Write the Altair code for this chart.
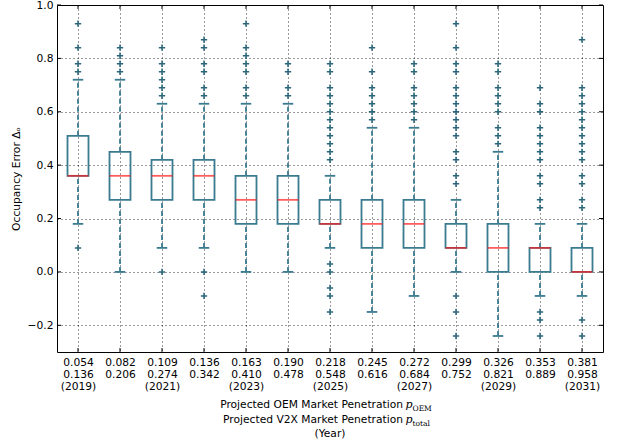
import json

import altair as alt
import pandas as pd

# Tick labels: OEM share, total V2X share, year
oem_share = ["0.054", "0.082", "0.109", "0.136", "0.163", "0.190", "0.218",
             "0.245", "0.272", "0.299", "0.326", "0.353", "0.381"]
total_share = ["0.136", "0.206", "0.274", "0.342", "0.410", "0.478", "0.548",
               "0.616", "0.684", "0.752", "0.821", "0.889", "0.958"]
years = ["(2019)", "", "(2021)", "", "(2023)", "", "(2025)", "", "(2027)", "",
         "(2029)", "", "(2031)"]

# Box statistics per penetration level
q1 = [0.36, 0.27, 0.27, 0.27, 0.18, 0.18, 0.18, 0.09, 0.09, 0.09, 0.00, 0.00, 0.00]
median = [0.36, 0.36, 0.36, 0.36, 0.27, 0.27, 0.18, 0.18, 0.18, 0.09, 0.09, 0.09, 0.00]
q3 = [0.51, 0.45, 0.42, 0.42, 0.36, 0.36, 0.27, 0.27, 0.27, 0.18, 0.18, 0.09, 0.09]
whisker_lo = [0.18, 0.00, 0.09, 0.09, 0.00, 0.00, 0.09, -0.15, -0.09, 0.00, -0.24, -0.09, -0.09]
whisker_hi = [0.72, 0.72, 0.63, 0.63, 0.63, 0.63, 0.36, 0.54, 0.54, 0.27, 0.45, 0.18, 0.18]

outliers = [
    [0.93, 0.84, 0.78, 0.75, 0.09],
    [0.84, 0.81, 0.78, 0.75],
    [0.84, 0.78, 0.75, 0.72, 0.69, 0.66, 0.00],
    [0.87, 0.84, 0.78, 0.75, 0.69, 0.66, 0.00, -0.09],
    [0.93, 0.84, 0.81, 0.78, 0.75, 0.69, 0.66],
    [0.78, 0.75, 0.69, 0.66],
    [0.78, 0.75, 0.69, 0.66, 0.63, 0.60, 0.57, 0.54, 0.51, 0.48, 0.45, 0.42,
     0.03, 0.00, -0.06, -0.09, -0.15],
    [0.84, 0.75, 0.69, 0.66, 0.63, 0.60, 0.57],
    [0.78, 0.75, 0.69, 0.66, 0.63, 0.60, 0.57],
    [0.93, 0.84, 0.78, 0.75, 0.69, 0.66, 0.63, 0.60, 0.57, 0.54, 0.51, 0.45,
     0.42, 0.36, 0.33, -0.09, -0.15, -0.24],
    [0.78, 0.75, 0.69, 0.66, 0.63, 0.60, 0.54, 0.51, 0.48],
    [0.69, 0.63, 0.60, 0.54, 0.51, 0.48, 0.45, 0.42, 0.36, 0.33, 0.27, 0.24,
     -0.15, -0.18, -0.24],
    [0.87, 0.69, 0.66, 0.63, 0.60, 0.57, 0.54, 0.51, 0.48, 0.45, 0.42, 0.36,
     0.33, 0.27, 0.24, -0.18, -0.24],
]

y_ticks = [-0.2, 0.0, 0.2, 0.4, 0.6, 0.8, 1.0]

W, H = 546, 347
EDGE = "#3b7b90"
FLIER = "#2b657a"
FONT = "DejaVu Sans"
FS = 10.7

pos = list(range(1, len(q1) + 1))
boxes = pd.DataFrame({"pos": pos, "q1": q1, "med": median, "q3": q3,
                      "lo": whisker_lo, "hi": whisker_hi})
boxes["left"] = boxes["pos"] - 0.25
boxes["right"] = boxes["pos"] + 0.25
boxes["cap_l"] = boxes["pos"] - 0.125
boxes["cap_r"] = boxes["pos"] + 0.125

fliers = pd.DataFrame([{"pos": i + 1, "v": v}
                       for i, vals in enumerate(outliers) for v in vals])

xs = alt.Scale(domain=[0.5, len(pos) + 0.5], nice=False, zero=False)
ys = alt.Scale(domain=[-0.3, 1.0], nice=False, zero=False)

label_rows = [[o, t, yr] for o, t, yr in zip(oem_share, total_share, years)]
label_expr = json.dumps(label_rows).replace('"', "'") + "[datum.value - 1]"

x_axis = alt.Axis(values=pos, labelExpr=label_expr, title=None, grid=True,
                  ticks=False, domain=False, labelPadding=5,
                  labelBaseline="top", labelLineHeight=12.4, labelFontSize=FS,
                  labelFont=FONT, labelColor="black", labelFlush=False)
y_axis = alt.Axis(values=y_ticks, format=".1f", title="Occupancy Error Δₒ",
                  grid=True, ticks=False, domain=False,
                  labelPadding=4, labelFontSize=FS, labelFont=FONT,
                  labelColor="black", titleFont=FONT, titleFontSize=FS,
                  titleFontWeight="normal", titleColor="black",
                  titlePadding=6, labelFlush=False)


def X(field):
    return alt.X(field, scale=xs, axis=x_axis)


def Y(field):
    return alt.Y(field, scale=ys, axis=y_axis)


base = alt.Chart(boxes)

# Dashed whiskers from the box edges out to the caps
whisk_hi = base.mark_rule(color=EDGE, strokeWidth=1.8, strokeDash=[5, 3]).encode(
    x=X("pos:Q"), y=Y("q3:Q"), y2="hi:Q",
)
whisk_lo = base.mark_rule(color=EDGE, strokeWidth=1.8, strokeDash=[5, 3]).encode(
    x=X("pos:Q"), y=Y("lo:Q"), y2="q1:Q",
)
cap_hi = base.mark_rule(color=EDGE, strokeWidth=1.8).encode(
    x=X("cap_l:Q"), x2="cap_r:Q", y=Y("hi:Q"),
)
cap_lo = base.mark_rule(color=EDGE, strokeWidth=1.8).encode(
    x=X("cap_l:Q"), x2="cap_r:Q", y=Y("lo:Q"),
)
box = base.mark_rect(fillOpacity=0, stroke=EDGE, strokeWidth=1.8).encode(
    x=X("left:Q"), x2="right:Q", y=Y("q1:Q"), y2="q3:Q",
)
med = base.mark_rule(color="#ff1a1a", opacity=0.7, strokeWidth=1.8).encode(
    x=X("left:Q"), x2="right:Q", y=Y("med:Q"),
)
pts = alt.Chart(fliers).mark_point(
    shape="M-1,0H1M0,-1V1", size=40, filled=False, stroke=FLIER,
    strokeWidth=1.5, opacity=1,
).encode(x=X("pos:Q"), y=Y("v:Q"))

# Inward tick marks on all four sides of the frame
yt = pd.DataFrame({"t": y_ticks})
xt = pd.DataFrame({"t": pos})
tick_style = dict(color="black", strokeWidth=1)
ticks = [
    alt.Chart(yt).mark_rule(**tick_style).encode(
        x=alt.value(0), x2=alt.value(4), y=Y("t:Q")),
    alt.Chart(yt).mark_rule(**tick_style).encode(
        x=alt.value(W - 4), x2=alt.value(W), y=Y("t:Q")),
    alt.Chart(xt).mark_rule(**tick_style).encode(
        y=alt.value(H - 4), y2=alt.value(H), x=X("t:Q")),
    alt.Chart(xt).mark_rule(**tick_style).encode(
        y=alt.value(0), y2=alt.value(4), x=X("t:Q")),
]


def text_piece(s, x, y, size=FS, font=FONT, align="left", style="normal"):
    return alt.Chart(pd.DataFrame({"s": [s]})).mark_text(
        font=font, fontSize=size, fontStyle=style, align=align,
        baseline="alphabetic", color="black",
    ).encode(x=alt.value(x), y=alt.value(y), text="s:N")


# Three-line x-axis title with italic p and subscripts
title_parts = [
    text_piece("Projected OEM Market Penetration", 346, 402.5, align="right"),
    text_piece("p", 348.5, 402.5, size=11, font="DejaVu Serif", style="italic"),
    text_piece("OEM", 355.5, 405.5, size=7.5, font="DejaVu Serif"),
    text_piece("Projected V2X Market Penetration", 346, 418, align="right"),
    text_piece("p", 348.5, 418, size=11, font="DejaVu Serif", style="italic"),
    text_piece("total", 355.5, 421, size=7.5, font="DejaVu Serif"),
    text_piece("(Year)", 273, 431.5, align="center"),
]

chart = alt.layer(
    whisk_hi, whisk_lo, cap_hi, cap_lo, box, pts, med, *ticks, *title_parts
).properties(
    width=W, height=H,
    autosize=alt.AutoSizeParams(type="none"),
    padding={"left": 57, "top": 5, "right": 14, "bottom": 95},
    background="white",
).configure_view(
    stroke="black", strokeWidth=1,
).configure_axis(
    gridColor="black", gridWidth=0.8, gridDash=[1, 3], gridOpacity=1,
)

chart.save("out.html", embed_options={"renderer": "svg", "actions": False})
